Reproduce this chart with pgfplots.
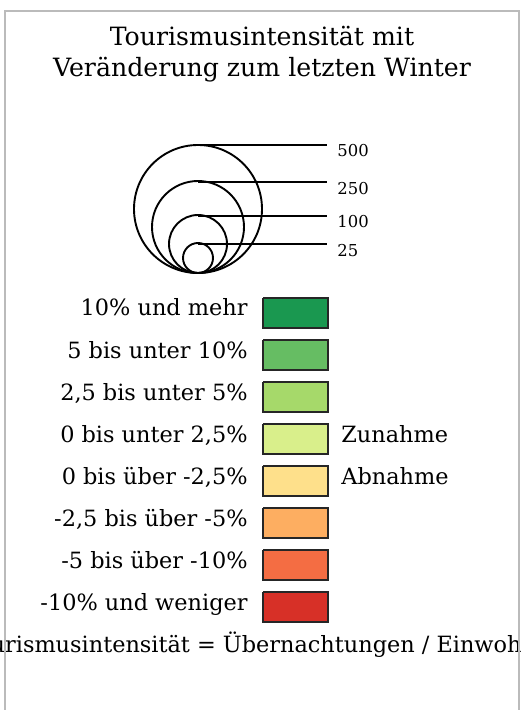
\documentclass[border=0pt]{standalone}
\usepackage{pgfplots}
\pgfplotsset{compat=1.18}
\usepackage{fontspec}
\setmainfont{DejaVu Serif}
\definecolor{c1}{HTML}{1A9850}
\definecolor{c2}{HTML}{66BD63}
\definecolor{c3}{HTML}{A6D96A}
\definecolor{c4}{HTML}{D9EF8B}
\definecolor{c5}{HTML}{FEE08B}
\definecolor{c6}{HTML}{FDAE61}
\definecolor{c7}{HTML}{F46D43}
\definecolor{c8}{HTML}{D73027}
\definecolor{frame}{HTML}{BBBBBB}
\begin{document}
\begin{tikzpicture}
\begin{axis}[
  width=260.5pt, height=355pt, scale only axis,
  xmin=0, xmax=521, ymin=0, ymax=710, y dir=reverse,
  hide axis, clip=false,
]
\node[anchor=base, font=\fontsize{12.6}{15}\selectfont] at (axis cs:262,46) {Tourismusintensität mit};
\node[anchor=base, font=\fontsize{12.6}{15}\selectfont] at (axis cs:262,77) {Veränderung zum letzten Winter};
\begin{scope}[every node/.style={anchor=base west, font=\fontsize{8.2}{10}\selectfont, inner sep=0pt}]
\node at (axis cs:337,157) {500};
\node at (axis cs:337,195) {250};
\node at (axis cs:337,228) {100};
\node at (axis cs:337,257) {25};
\end{scope}
\begin{scope}[every node/.style={anchor=base east, font=\fontsize{11.2}{13}\selectfont, inner sep=0pt}]
\node at (axis cs:248,316) {10\% und mehr};
\node at (axis cs:248,358) {5 bis unter 10\%};
\node at (axis cs:248,400) {2,5 bis unter 5\%};
\node at (axis cs:248,442) {0 bis unter 2,5\%};
\node at (axis cs:248,484) {0 bis über -2,5\%};
\node at (axis cs:248,526) {-2,5 bis über -5\%};
\node at (axis cs:248,568) {-5 bis über -10\%};
\node at (axis cs:248,610) {-10\% und weniger};
\end{scope}
\node[anchor=base west, font=\fontsize{11.2}{13}\selectfont, inner sep=0pt] at (axis cs:341,442) {Zunahme};
\node[anchor=base west, font=\fontsize{11.2}{13}\selectfont, inner sep=0pt] at (axis cs:341,484) {Abnahme};
\node[anchor=base, font=\fontsize{11.2}{13}\selectfont, inner sep=0pt] at (axis cs:262,652) {Tourismusintensität = Übernachtungen / Einwohner};
\end{axis}
\begin{axis}[
  width=260.5pt, height=355pt, scale only axis,
  xmin=0, xmax=521, ymin=0, ymax=710, y dir=reverse,
  hide axis, clip=true,
]
% frame
\addplot[frame, line width=0.8pt] coordinates {(5,720) (5,11) (519,11) (519,720)};
% bubble size circles (radius in pt = 0.5 * px)
\addplot[only marks, mark=o, mark size=32pt, mark options={line width=0.95pt}] coordinates {(198,209)};
\addplot[only marks, mark=o, mark size=23pt, mark options={line width=0.95pt}] coordinates {(198,227)};
\addplot[only marks, mark=o, mark size=14.5pt, mark options={line width=0.95pt}] coordinates {(198,244)};
\addplot[only marks, mark=o, mark size=7.5pt, mark options={line width=0.95pt}] coordinates {(198,258)};
\addplot[black, line width=0.8pt] coordinates {(198,145) (327,145)};
\addplot[black, line width=0.8pt] coordinates {(198,182) (327,182)};
\addplot[black, line width=0.8pt] coordinates {(198,216) (327,216)};
\addplot[black, line width=0.8pt] coordinates {(198,244) (327,244)};
% colour boxes
\pgfplotsinvokeforeach{1,...,8}{
  \pgfmathsetmacro{\ytop}{298+42*(#1-1)}
  \pgfmathsetmacro{\ybot}{\ytop+30}
  \edef\temp{\noexpand\addplot[draw=frame, line width=1.2pt, fill=c#1] coordinates {(263,\ytop) (328,\ytop) (328,\ybot) (263,\ybot) (263,\ytop)};
  \noexpand\addplot[draw=black!85, line width=0.55pt] coordinates {(263,\ytop) (328,\ytop) (328,\ybot) (263,\ybot) (263,\ytop)};}
  \temp
}
\end{axis}
\pgfresetboundingbox
\path[use as bounding box] (current axis.south west) rectangle (current axis.north east);
\end{tikzpicture}
\end{document}
